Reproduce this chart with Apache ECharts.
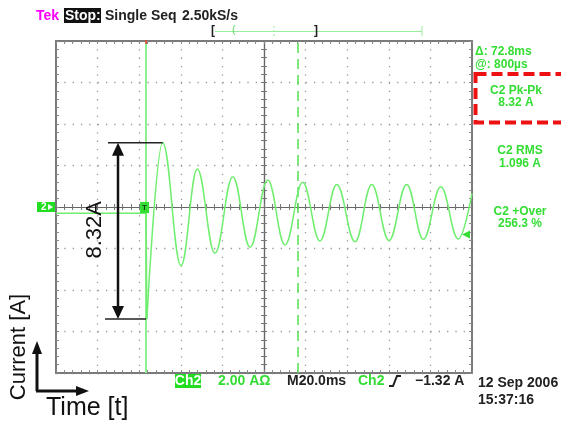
<!DOCTYPE html>
<html><head><meta charset="utf-8">
<script src="https://cdn.jsdelivr.net/npm/echarts@6/dist/echarts.min.js"></script>
<style>html,body{margin:0;padding:0;background:#fff;}#c{width:561px;height:423px;}</style>
</head><body><div id="c"></div>
<script>
// ---- data (time in ms relative to screen centre, current in A) ----
const preTriggerMs = [-100, -56.7, -56.3];
const preTriggerA  = [-0.3, -0.3, -5.4];
const ringMs = [-56.3, -48.7, -39.9, -32.1, -23.6, -15.0, -6.7, 1.8, 10.1, 18.6, 26.9, 35.0, 43.8, 51.8, 60.1, 68.6, 76.6, 85.0, 93.4, 100];
const ringA  = [-5.4, 3.1, -2.83, 1.83, -2.23, 1.46, -1.94, 1.30, -1.83, 1.19, -1.64, 1.09, -1.67, 1.09, -1.62, 1.09, -1.56, 0.98, -1.54, 0.66];
const cursorMs = [-56.7, 16.1];
const triggerLevelA = -1.32;
const xRange = [-100, 100], xDiv = 20;   // 20.0 ms/div
const yRange = [-8, 8], yDiv = 2;        // 2.00 A/div
const headerTexts = ['Tek', 'Stop:', 'Single Seq', '2.50kS/s'];
const readoutTexts = ['Δ: 72.8ms', '@: 800µs', 'C2 Pk-Pk', '8.32 A', 'C2 RMS', '1.096 A', 'C2 +Over', '256.3 %'];
const statusTexts = ['Ch2', '2.00 AΩ', 'M20.0ms', 'Ch2', '−1.32 A', '12 Sep 2006', '15:37:16'];

const GREEN = '#33dd33', TRACE = '#70ee70', DARK = '#222';
const SF = 'Liberation Sans, Arial, sans-serif';

const chart = echarts.init(document.getElementById('c'), null, {renderer: 'canvas'});

function frameAxis(extra) {
  return Object.assign({
    type: 'value', axisLabel: {show: false}, splitLine: {show: false},
    axisLine: {show: true, onZero: false, lineStyle: {color: '#7a7a7a', width: 2}},
    axisTick: {show: true, inside: true, length: 3, lineStyle: {color: '#888', width: 1}},
    minorTick: {show: true, splitNumber: 5, length: 3, lineStyle: {color: '#888', width: 1}}
  }, extra);
}
function crossAxis(extra, inside) {
  return Object.assign({
    type: 'value', axisLabel: {show: false}, splitLine: {show: false},
    axisLine: {show: true, onZero: true, lineStyle: {color: '#666', width: 1.2}},
    axisTick: {show: true, inside: inside, length: 3, lineStyle: {color: '#777', width: 1}},
    minorTick: {show: true, splitNumber: 5, length: 3, lineStyle: {color: '#777', width: 1}}
  }, extra);
}
const xBase = {min: xRange[0], max: xRange[1], interval: xDiv};
const yBase = {min: yRange[0], max: yRange[1], interval: yDiv};
const dotsV = {show: true, lineStyle: {color: '#999', width: 1.3, type: [1.3, 7.0]}};
const dotsH = {show: true, lineStyle: {color: '#999', width: 1.3, type: [1.3, 7.02]}};

const option = {
  animation: false,
  grid: {left: 56, top: 41, width: 416, height: 332, containLabel: false},
  xAxis: [
    frameAxis(Object.assign({position: 'bottom', splitLine: dotsV}, xBase)),
    frameAxis(Object.assign({position: 'top'}, xBase)),
    crossAxis(Object.assign({position: 'bottom'}, xBase), true),
    crossAxis(Object.assign({position: 'bottom'}, xBase), false)
  ],
  yAxis: [
    frameAxis(Object.assign({position: 'left', splitLine: dotsH}, yBase)),
    frameAxis(Object.assign({position: 'right'}, yBase)),
    crossAxis(Object.assign({position: 'left'}, yBase), true),
    crossAxis(Object.assign({position: 'left'}, yBase), false)
  ],
  series: [
    {
      type: 'line', xAxisIndex: 0, yAxisIndex: 0, showSymbol: false, symbol: 'none', z: 5,
      data: preTriggerMs.map((t, i) => [t, preTriggerA[i]]),
      lineStyle: {color: TRACE, width: 1.5}
    },
    {
      type: 'line', xAxisIndex: 0, yAxisIndex: 0, showSymbol: false, symbol: 'none', z: 5,
      smooth: 0.4, smoothMonotone: 'x',
      data: ringMs.map((t, i) => [t, ringA[i]]),
      lineStyle: {color: TRACE, width: 1.5},
      markLine: {
        silent: true, symbol: 'none', label: {show: false}, animation: false,
        data: [
          {xAxis: cursorMs[0], lineStyle: {color: '#8eef8e', width: 2, type: 'solid'}},
          {xAxis: cursorMs[1], lineStyle: {color: '#55dd55', width: 1.5, type: [10, 6]}}
        ]
      },
      markPoint: {
        silent: true, label: {show: false}, animation: false,
        data: [{coord: [xRange[1], triggerLevelA], symbol: 'path://M0,5 L9,0 L9,10 Z',
                symbolSize: [8, 8], symbolOffset: [-6, 0], itemStyle: {color: GREEN}}]
      }
    }
  ]
};
chart.setOption(option);

// ---- overlays (text + annotation) ----
const peakY = chart.convertToPixel({yAxisIndex: 0}, Math.max.apply(null, ringA));
const minY = chart.convertToPixel({yAxisIndex: 0}, Math.min.apply(null, ringA));
const trigX = chart.convertToPixel({xAxisIndex: 0}, cursorMs[0]);
const peakX = chart.convertToPixel({xAxisIndex: 0}, ringMs[1]);
const zeroY = chart.convertToPixel({yAxisIndex: 0}, 0);

function txt(text, x, y, fill, font, align, extra) {
  return Object.assign({type: 'text', z: 50, style: {text: text, x: x, y: y, fill: fill, font: font,
    textAlign: align || 'left', textVerticalAlign: 'middle'}}, extra || {});
}
function ln(x1, y1, x2, y2, stroke, w, dash) {
  return {type: 'line', z: 50, shape: {x1: x1, y1: y1, x2: x2, y2: y2},
    style: {stroke: stroke, lineWidth: w, lineDash: dash || null}};
}
function poly(points, fill) {
  return {type: 'polygon', z: 50, shape: {points: points}, style: {fill: fill}};
}
const HF = 'bold 14px ' + SF;
const RF = 'bold 12px ' + SF;
const g = [];
// header
g.push(txt(headerTexts[0], 36, 16, '#ff00ff', HF));
g.push({type: 'rect', z: 49, shape: {x: 64, y: 8, width: 37, height: 15}, style: {fill: '#111'}});
g.push(txt(headerTexts[1], 65, 16, '#fff', HF));
g.push(txt(headerTexts[2], 105, 16, DARK, HF));
g.push(txt(headerTexts[3], 182, 16, DARK, HF));
// record-length bar
g.push(ln(215, 31.5, 422, 31.5, '#99ee99', 1));
g.push(txt('[', 211, 31, DARK, 'bold 12px ' + SF));
g.push(txt(']', 314, 31, DARK, 'bold 12px ' + SF));
g.push(txt('(', 232, 30, '#66dd66', '11px ' + SF));
g.push(ln(274, 26, 274, 36, '#99ee99', 1, [2, 2]));
g.push(ln(422, 26, 422, 36, '#99ee99', 1));
// trigger position marks on top border
g.push(ln(trigX, 40, trigX, 44, '#ee3333', 1.5));
// right readouts
g.push(txt(readoutTexts[0], 475, 52, GREEN, RF));
g.push(txt(readoutTexts[1], 475, 65, GREEN, RF));
g.push(txt(readoutTexts[2], 516, 91, GREEN, RF, 'center'));
g.push(txt(readoutTexts[3], 516, 103, GREEN, RF, 'center'));
g.push(txt(readoutTexts[4], 520, 151, GREEN, RF, 'center'));
g.push(txt(readoutTexts[5], 520, 164, GREEN, RF, 'center'));
g.push(txt(readoutTexts[6], 520, 212, GREEN, RF, 'center'));
g.push(txt(readoutTexts[7], 520, 224, GREEN, RF, 'center'));
g.push({type: 'rect', z: 50, shape: {x: 475.5, y: 74, width: 100, height: 48.5},
  style: {fill: 'none', stroke: '#ee1111', lineWidth: 4, lineDash: [11, 5]}});
// status line
g.push({type: 'rect', z: 49, shape: {x: 175, y: 374, width: 26, height: 14}, style: {fill: '#22dd22'}});
g.push(txt(statusTexts[0], 188, 381, '#fff', HF, 'center'));
g.push(txt(statusTexts[1], 218, 381, GREEN, HF));
g.push(txt(statusTexts[2], 287, 381, DARK, HF));
g.push(txt(statusTexts[3], 358, 381, GREEN, HF));
g.push({type: 'polyline', z: 50, shape: {points: [[389, 386], [393, 386], [397, 376], [401, 376]]},
  style: {stroke: DARK, lineWidth: 2, fill: null}});
g.push(txt(statusTexts[4], 415, 381, DARK, HF));
g.push(txt(statusTexts[5], 478, 383, DARK, HF));
g.push(txt(statusTexts[6], 478, 400, DARK, HF));
// channel ground marker & trigger marker
g.push({type: 'rect', z: 49, shape: {x: 37, y: zeroY - 5, width: 18, height: 10}, style: {fill: '#22dd22'}});
g.push(txt('2', 41, zeroY, '#fff', 'bold 10px ' + SF));
g.push(poly([[48, zeroY - 3], [53, zeroY], [48, zeroY + 3]], '#fff'));
g.push({type: 'rect', z: 49, shape: {x: trigX - 6, y: zeroY - 5, width: 9, height: 11}, style: {fill: '#33dd33'}});
g.push(txt('T', trigX - 1.5, zeroY + 0.5, '#114411', 'bold 8px ' + SF, 'center'));
// 8.32A annotation
const AX = 118;
g.push(ln(108, peakY, peakX, peakY, DARK, 1.5));
g.push(ln(105, minY, trigX, minY, DARK, 1.5));
g.push(ln(AX, peakY + 10, AX, minY - 10, '#111', 2.5));
g.push(poly([[AX, peakY], [AX - 6, peakY + 13], [AX + 6, peakY + 13]], '#111'));
g.push(poly([[AX, minY], [AX - 6, minY - 13], [AX + 6, minY - 13]], '#111'));
g.push(txt('8.32A', 0, 0, '#111', '22px ' + SF, 'center', {x: 95, y: (peakY + minY) / 2 - 1, rotation: Math.PI / 2}));
// axes legend (bottom-left)
g.push(ln(37, 391, 37, 352, '#111', 3));
g.push(poly([[37, 341], [32, 354], [42, 354]], '#111'));
g.push(ln(36, 391, 78, 391, '#111', 3));
g.push(poly([[89, 391], [76, 386], [76, 396]], '#111'));
g.push(txt('Current [A]', 0, 0, '#111', '22px ' + SF, 'center', {x: 19, y: 347, rotation: Math.PI / 2}));
g.push(txt('Time [t]', 46, 408, '#111', '25px ' + SF));

chart.setOption({graphic: g});
</script></body></html>
